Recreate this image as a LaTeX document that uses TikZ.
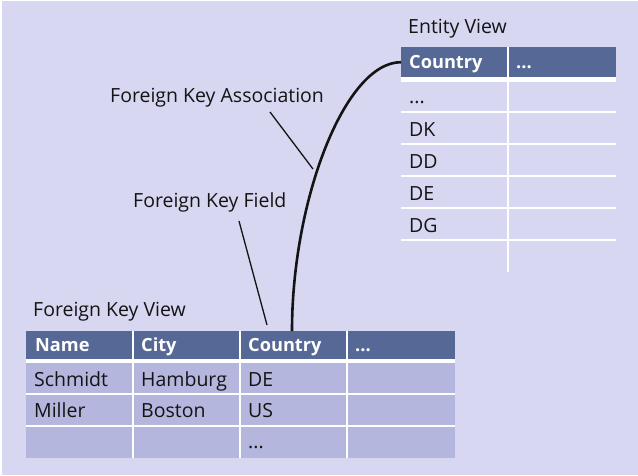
\documentclass[tikz,border=0pt]{standalone}
\usepackage{fontspec}
\setmainfont{Open Sans}
\definecolor{pagebg}{RGB}{215,215,241}
\definecolor{hdrblue}{RGB}{86,104,150}
\definecolor{rowfill}{RGB}{180,182,222}
\definecolor{ink}{RGB}{20,20,20}
\tikzset{
  lbl/.style={font=\fontsize{19.5}{22}\selectfont, text=ink, inner sep=0pt, anchor=base west},
  hdrcell/.style={fill=hdrblue, draw=none, inner sep=0pt},
  bodycell/.style={fill=rowfill, draw=none, inner sep=0pt},
  hdrtext/.style={font=\fontsize{18.2}{20}\selectfont\bfseries, text=white, inner sep=0pt, anchor=base west},
  celltext/.style={font=\fontsize{19.5}{22}\selectfont, text=ink, inner sep=0pt, anchor=base west},
  sepline/.style={white, line width=2pt},
  pointer/.style={ink, line width=1.3pt},
  assoc/.style={ink, line width=2.6pt}
}
\begin{document}
\begin{tikzpicture}[x=1pt,y=-1pt]
\useasboundingbox (0,0) rectangle (638,475);
\fill[white] (0,0) rectangle (638,475);
\fill[pagebg] (2,1) rectangle (638,475);

% ---------- Foreign Key View table ----------
\fill[white] (26,331) rectangle (455,458);
\foreach \xa/\xb [count=\i] in {26/132,134/239,241/346,348/455}{
  \fill[hdrblue] (\xa,331) rectangle (\xb,359);
  \fill[rowfill] (\xa,363) rectangle (\xb,393);
  \fill[rowfill] (\xa,395) rectangle (\xb,425);
  \fill[rowfill] (\xa,427) rectangle (\xb,458);
}
\node[hdrcell, minimum width=106pt, minimum height=28pt, anchor=north west, fill=none] (fkname) at (26,331) {};
\node[hdrcell, minimum width=105pt, minimum height=28pt, anchor=north west, fill=none] (fkcity) at (134,331) {};
\node[hdrcell, minimum width=105pt, minimum height=28pt, anchor=north west, fill=none] (fkcountry) at (241,331) {};
\node[hdrcell, minimum width=107pt, minimum height=28pt, anchor=north west, fill=none] (fkmore) at (348,331) {};

\node[hdrtext] (tname) at (35,351) {Name};
\node[hdrtext] (tcity) at (141,351) {City};
\node[hdrtext] (tcountry) at (248,351) {Country};
\node[hdrtext] (tmore) at (355,351) {...};

\node[celltext] (r1a) at (34,386) {Schmidt};
\node[celltext] (r1b) at (141,386) {Hamburg};
\node[celltext] (r1c) at (248,386) {DE};
\node[celltext] (r2a) at (34,417) {Miller};
\node[celltext] (r2b) at (141,417) {Boston};
\node[celltext] (r2c) at (248,417) {US};
\node[celltext] (r3c) at (248,448) {...};

\node[lbl] (fkview) at (33,316) {Foreign Key View};

% ---------- Entity View table ----------
\fill[hdrblue] (401,47) rectangle (507,77);
\fill[hdrblue] (509,47) rectangle (616,77);
\fill[white] (401,77) rectangle (616,81.5);
\draw[sepline] (508,47) -- (508,272);
\foreach \y in {112,144,176,208,240}{
  \draw[white, line width=1.6pt] (401,\y) -- (616,\y);
}
\node[hdrcell, minimum width=106pt, minimum height=30pt, anchor=north west, fill=none] (evcountry) at (401,47) {};
\node[hdrtext] (tevcountry) at (409,68) {Country};
\node[hdrtext] (tevmore) at (516,68) {...};

\node[celltext] (e1) at (409,103) {...};
\node[celltext] (e2) at (409,136) {DK};
\node[celltext] (e3) at (409,168) {DD};
\node[celltext] (e4) at (409,200) {DE};
\node[celltext] (e5) at (409,232) {DG};

\node[lbl] (evlabel) at (408,33) {Entity View};

% ---------- Association curve ----------
\draw[assoc] (fkcountry.north -| 292,0) .. controls (292,200) and (345,62) .. (evcountry.west);

% ---------- Labels with pointers ----------
\node[lbl] (fka) at (110,102) {Foreign Key Association};
\node[lbl] (fkf) at (133,207) {Foreign Key Field};
\coordinate (fkaend) at (313,169);
\coordinate (fkastart) at (270,112);
\coordinate (fkfstart) at (239,221);
\coordinate (fkfend) at (267,325);
\draw[pointer] (fkastart) -- (fkaend);
\draw[pointer] (fkfstart) -- (fkfend);
\end{tikzpicture}
\end{document}
